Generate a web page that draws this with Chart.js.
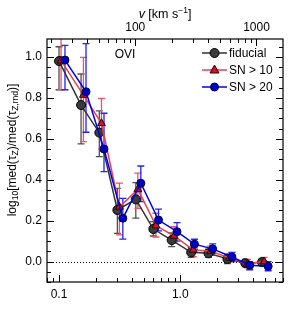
<!DOCTYPE html>
<html>
<head>
<meta charset="utf-8">
<script src="https://cdn.jsdelivr.net/npm/chart.js@4/dist/chart.umd.min.js"></script>
<style>
  html, body { margin: 0; padding: 0; background: #fff; }
  canvas { display: block; }
</style>
</head>
<body>
<canvas id="chart_tau" width="291" height="323"></canvas>
<script>
// values (x in pMpc, y = log10 ratio)
const fidX  = [0.100, 0.152, 0.215, 0.303, 0.43, 0.60, 0.85, 1.23, 1.71, 2.45, 3.44, 4.73];
const fidY  = [0.980, 0.765, 0.630, 0.252, 0.304, 0.159, 0.105, 0.045, 0.040, 0.013, -0.008, -0.003];
const fidLo = [0.84, 0.575, 0.513, 0.138, 0.212, 0.125, 0.073, 0.020, 0.020, -0.010, -0.025, -0.020];
const fidHi = [1.05, 0.917, 0.737, 0.358, 0.386, 0.195, 0.140, 0.070, 0.060, 0.035, 0.010, 0.015];

const sn10X  = [0.104, 0.159, 0.224, 0.315, 0.447, 0.63, 0.89, 1.28, 1.78, 2.55, 3.58, 4.92];
const sn10Y  = [0.982, 0.814, 0.676, 0.267, 0.353, 0.176, 0.125, 0.057, 0.050, 0.018, -0.012, 0.000];
const sn10Lo = [0.84, 0.586, 0.55, 0.13, 0.26, 0.12, 0.09, 0.024, 0.030, 0.000, -0.030, -0.015];
const sn10Hi = [1.12, 0.998, 0.798, 0.383, 0.432, 0.236, 0.17, 0.090, 0.075, 0.040, 0.010, 0.020];

const sn20X  = [0.112, 0.167, 0.235, 0.336, 0.473, 0.662, 0.94, 1.31, 1.85, 2.67, 3.74, 5.31];
const sn20Y  = [0.985, 0.830, 0.550, 0.212, 0.383, 0.203, 0.146, 0.085, 0.062, 0.022, -0.018, -0.023];
const sn20Lo = [0.84, 0.632, 0.44, 0.11, 0.293, 0.15, 0.10, 0.060, 0.040, 0.000, -0.040, -0.045];
const sn20Hi = [1.057, 1.065, 0.725, 0.309, 0.467, 0.256, 0.19, 0.109, 0.086, 0.045, 0.000, 0.000];

const xTicks = [0.1, 1];
const vTicks = [100, 1000];
const yTicks = [0.0, 0.2, 0.4, 0.6, 0.8, 1.0];
const seriesNames = ['fiducial', 'SN > 10', 'SN > 20'];

const xMin = 0.0796, xMax = 7.04;
const hubble = 235; // km/s per pMpc, maps the top axis
const yMin = -0.10, yMax = 1.088;
const FONT = '"Liberation Sans", Arial, Helvetica, sans-serif';

function toPoints(xs, ys) {
    return xs.map((x, i) => ({x: x, y: ys[i]}));
}

const errors = [
    {lo: fidLo, hi: fidHi, xs: fidX, color: '#505050'},
    {lo: sn10Lo, hi: sn10Hi, xs: sn10X, color: '#f0506a'},
    {lo: sn20Lo, hi: sn20Hi, xs: sn20X, color: '#2323f0'}
];

const errorBars = {
    id: 'errorBars',
    beforeDatasetsDraw(chart) {
        const {ctx, chartArea, scales} = chart;
        ctx.save();
        ctx.beginPath();
        ctx.rect(chartArea.left, chartArea.top, chartArea.right - chartArea.left, chartArea.bottom - chartArea.top);
        ctx.clip();
        // dotted zero line
        ctx.strokeStyle = '#000';
        ctx.lineWidth = 1;
        ctx.setLineDash([1, 2]);
        const y0 = Math.round(scales.y.getPixelForValue(0)) + 0.5;
        ctx.beginPath();
        ctx.moveTo(chartArea.left, y0);
        ctx.lineTo(chartArea.right, y0);
        ctx.stroke();
        ctx.setLineDash([]);
        errors.forEach(e => {
            ctx.strokeStyle = e.color;
            ctx.lineWidth = 1.3;
            e.xs.forEach((x, i) => {
                const px = scales.x.getPixelForValue(x);
                const pLo = scales.y.getPixelForValue(e.lo[i]);
                const pHi = scales.y.getPixelForValue(e.hi[i]);
                ctx.beginPath();
                ctx.moveTo(px, pLo); ctx.lineTo(px, pHi);
                ctx.moveTo(px - 3.5, pLo); ctx.lineTo(px + 3.5, pLo);
                ctx.moveTo(px - 3.5, pHi); ctx.lineTo(px + 3.5, pHi);
                ctx.stroke();
            });
        });
        ctx.restore();
    }
};

function logMinor(lo, hi) {
    const out = [];
    for (let d = Math.floor(Math.log10(lo)); d <= Math.ceil(Math.log10(hi)); d++) {
        for (let m = 1; m <= 9; m++) {
            const v = m * Math.pow(10, d);
            if (v >= lo && v <= hi) out.push({v: v, major: m === 1});
        }
    }
    return out;
}

const frame = {
    id: 'frame',
    afterDraw(chart) {
        const {ctx, chartArea: a, scales} = chart;
        ctx.save();
        ctx.strokeStyle = '#000';
        ctx.lineWidth = 1.2;
        ctx.strokeRect(a.left, a.top, a.right - a.left, a.bottom - a.top);
        ctx.lineWidth = 1;
        ctx.beginPath();
        logMinor(xMin, xMax).forEach(t => {
            const px = Math.round(scales.x.getPixelForValue(t.v)) + 0.5;
            const len = t.major ? 7 : 4;
            ctx.moveTo(px, a.bottom); ctx.lineTo(px, a.bottom - len);
        });
        logMinor(xMin * hubble, xMax * hubble).forEach(t => {
            const px = Math.round(scales.x2.getPixelForValue(t.v)) + 0.5;
            const len = t.major ? 7 : 4;
            ctx.moveTo(px, a.top); ctx.lineTo(px, a.top + len);
        });
        for (let k = -2; k <= 21; k++) {
            const v = k * 0.05;
            if (v < yMin || v > yMax) continue;
            const py = Math.round(scales.y.getPixelForValue(v)) + 0.5;
            const len = (k % 4 === 0) ? 7 : 4;
            ctx.moveTo(a.left, py); ctx.lineTo(a.left + len, py);
            ctx.moveTo(a.right, py); ctx.lineTo(a.right - len, py);
        }
        ctx.stroke();
        ctx.restore();
    }
};

function drawMarker(ctx, kind, x, y) {
    ctx.save();
    ctx.lineWidth = 1;
    ctx.beginPath();
    if (kind === 'triangle') {
        ctx.moveTo(x, y - 5);
        ctx.lineTo(x + 4.5, y + 3);
        ctx.lineTo(x - 4.5, y + 3);
        ctx.closePath();
        ctx.fillStyle = '#c8142c';
        ctx.strokeStyle = '#300000';
    } else if (kind === 'blue') {
        ctx.arc(x, y, 4, 0, Math.PI * 2);
        ctx.fillStyle = '#0000c8';
        ctx.strokeStyle = '#000040';
    } else {
        ctx.arc(x, y, 4.5, 0, Math.PI * 2);
        ctx.fillStyle = '#3a3a3a';
        ctx.strokeStyle = '#000';
    }
    ctx.fill();
    ctx.stroke();
    ctx.restore();
}

function drawRich(ctx, parts, x, y, align) {
    // parts: [text, size, dy, italic]
    let total = 0;
    parts.forEach(p => {
        ctx.font = (p[3] ? 'italic ' : '') + p[1] + 'px ' + FONT;
        total += ctx.measureText(p[0]).width;
    });
    let cx = align === 'center' ? x - total / 2 : x;
    parts.forEach(p => {
        ctx.font = (p[3] ? 'italic ' : '') + p[1] + 'px ' + FONT;
        ctx.fillText(p[0], cx, y + p[2]);
        cx += ctx.measureText(p[0]).width;
    });
}

const annotations = {
    id: 'annotations',
    afterDraw(chart) {
        const {ctx} = chart;
        ctx.save();
        ctx.fillStyle = '#000';
        ctx.textBaseline = 'middle';
        ctx.textAlign = 'left';
        // legend
        const rows = [
            {y: 53, color: '#333333', kind: 'circle'},
            {y: 70, color: '#e8404c', kind: 'triangle'},
            {y: 87, color: '#0000e6', kind: 'blue'}
        ];
        rows.forEach((r, i) => {
            ctx.strokeStyle = r.color;
            ctx.lineWidth = 1.5;
            ctx.beginPath();
            ctx.moveTo(202, r.y); ctx.lineTo(227, r.y);
            ctx.stroke();
            drawMarker(ctx, r.kind, 214.5, r.y);
            ctx.fillStyle = '#000';
            ctx.font = '12px ' + FONT;
            ctx.fillText(seriesNames[i], 229, r.y + 0.5);
        });
        ctx.font = '12px ' + FONT;
        ctx.textAlign = 'center';
        ctx.fillText('OVI', 125, 55);
        // top axis title
        ctx.textAlign = 'left';
        drawRich(ctx, [['v', 12.5, 0, true], [' [km s', 12.5, 0, false], ['\u22121', 8.5, -4, false], [']', 12.5, 0, false]], 165, 15, 'center');
        // y axis title
        ctx.translate(13, 150);
        ctx.rotate(-Math.PI / 2);
        drawRich(ctx, [
            ['log', 12, 0, false], ['10', 8.5, 3, false], ['[med(\u03c4', 12, 0, false], ['Z', 8.5, 3, false],
            [')/med(\u03c4', 12, 0, false], ['Z,rnd', 8.5, 3, false], [')]', 12, 0, false]
        ], 0, 0, 'center');
        ctx.restore();
    }
};

const ctx = document.getElementById('chart_tau').getContext('2d');
const tauChart = new Chart(ctx, {
    type: 'line',
    data: {
        datasets: [
            {
                label: seriesNames[0],
                data: toPoints(fidX, fidY),
                borderColor: '#333333',
                borderWidth: 1.5,
                pointStyle: 'circle',
                pointRadius: 4.5,
                pointBackgroundColor: '#3a3a3a',
                pointBorderColor: '#000',
                pointBorderWidth: 1,
                order: 2
            },
            {
                label: seriesNames[1],
                data: toPoints(sn10X, sn10Y),
                borderColor: '#e8404c',
                borderWidth: 1.5,
                pointStyle: 'triangle',
                pointRadius: 4.5,
                pointBackgroundColor: '#c8142c',
                pointBorderColor: '#300000',
                pointBorderWidth: 1,
                order: 1
            },
            {
                label: seriesNames[2],
                data: toPoints(sn20X, sn20Y),
                borderColor: '#0000e6',
                borderWidth: 1.5,
                pointStyle: 'circle',
                pointRadius: 4,
                pointBackgroundColor: '#0000c8',
                pointBorderColor: '#000040',
                pointBorderWidth: 1,
                order: 0
            }
        ]
    },
    options: {
        responsive: false,
        animation: false,
        layout: {padding: {left: 0, right: 8, top: 0, bottom: 0}},
        plugins: {legend: {display: false}, tooltip: {enabled: false}},
        scales: {
            x: {
                type: 'logarithmic',
                position: 'bottom',
                min: xMin,
                max: xMax,
                afterBuildTicks: s => { s.ticks = xTicks.map(v => ({value: v})); },
                afterFit: s => { s.height = 41; },
                grid: {display: false, drawTicks: false},
                border: {display: false},
                ticks: {
                    padding: 5,
                    color: '#000',
                    font: {family: FONT, size: 12},
                    maxRotation: 0,
                    autoSkip: false,
                    callback: v => v.toFixed(1)
                }
            },
            x2: {
                type: 'logarithmic',
                position: 'top',
                min: xMin * hubble,
                max: xMax * hubble,
                afterBuildTicks: s => { s.ticks = vTicks.map(v => ({value: v})); },
                afterFit: s => { s.height = 39; },
                grid: {display: false, drawTicks: false},
                border: {display: false},
                ticks: {
                    padding: 4,
                    color: '#000',
                    font: {family: FONT, size: 12},
                    maxRotation: 0,
                    autoSkip: false,
                    callback: v => String(v)
                }
            },
            y: {
                type: 'linear',
                min: yMin,
                max: yMax,
                afterBuildTicks: s => { s.ticks = yTicks.map(v => ({value: v})); },
                afterFit: s => { s.width = 47; },
                grid: {display: false, drawTicks: false},
                border: {display: false},
                ticks: {
                    padding: 5,
                    color: '#000',
                    font: {family: FONT, size: 12},
                    callback: v => v.toFixed(1)
                }
            }
        }
    },
    plugins: [errorBars, frame, annotations]
});
</script>
</body>
</html>
